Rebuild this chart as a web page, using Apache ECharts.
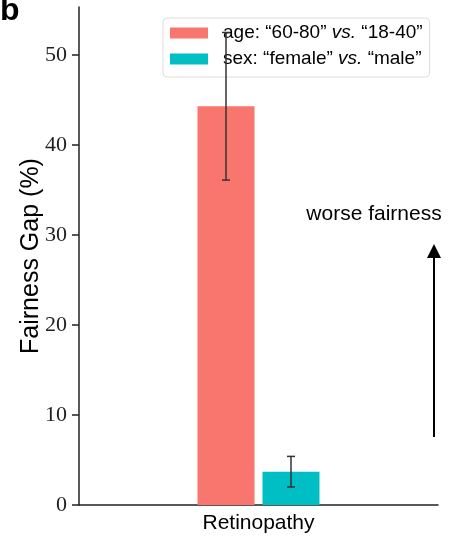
<!DOCTYPE html>
<html>
<head>
<meta charset="utf-8">
<script src="https://cdn.jsdelivr.net/npm/echarts@6/dist/echarts.min.js"></script>
<style>html,body{margin:0;padding:0;background:#fff}#c{width:455px;height:540px}</style>
</head>
<body>
<div id="c"></div>
<script>
var categories = ['Retinopathy'];
var seriesNames = ['age: “60-80” {i|vs.} “18-40”', 'sex: “female” {i|vs.} “male”'];
var seriesKeys = ['age', 'sex'];
var ageValues = [44.3];
var ageErrors = [8.2];
var sexValues = [3.7];
var sexErrors = [1.7];
var yTicks = [0, 10, 20, 30, 40, 50];
var colors = ['#F8766D', '#00BFC4'];

var BAR_W = 57, BAR_GAP = 8;
var SANS = '"Liberation Sans", Arial, Helvetica, sans-serif';

function errSeries(vals, errs, offset) {
  return {
    type: 'custom',
    z: 6,
    silent: true,
    data: vals.map(function (v, i) { return [i, v - errs[i], v + errs[i]]; }),
    renderItem: function (params, api) {
      var lo = api.coord([api.value(0), api.value(1)]);
      var hi = api.coord([api.value(0), api.value(2)]);
      var x = lo[0] + offset, cw = 4;
      var st = { stroke: '#333', lineWidth: 1.5 };
      return { type: 'group', children: [
        { type: 'line', shape: { x1: x, y1: lo[1], x2: x, y2: hi[1] }, style: st },
        { type: 'line', shape: { x1: x - cw, y1: lo[1], x2: x + cw, y2: lo[1] }, style: st },
        { type: 'line', shape: { x1: x - cw, y1: hi[1], x2: x + cw, y2: hi[1] }, style: st }
      ]};
    }
  };
}

var chart = echarts.init(document.getElementById('c'), null, { renderer: 'canvas' });
var half = (BAR_W + BAR_GAP) / 2;
chart.setOption({
  animation: false,
  grid: { left: 79, right: 17, top: 7, bottom: 35 },
  legend: {
    left: 163, top: 18, orient: 'vertical',
    padding: [5, 7, 8, 7],
    icon: 'rect',
    itemWidth: 38, itemHeight: 11, itemGap: 6,
    backgroundColor: 'rgba(255,255,255,0.8)',
    borderColor: '#dcdcdc', borderWidth: 1, borderRadius: 4,
    data: seriesKeys,
    formatter: function (name) { return seriesNames[seriesKeys.indexOf(name)]; },
    textStyle: {
      fontFamily: SANS, fontSize: 19, color: '#000', lineHeight: 20, padding: [0, 0, 0, 10],
      rich: { i: { fontFamily: SANS, fontSize: 19, fontStyle: 'italic', color: '#000' } }
    }
  },
  xAxis: {
    type: 'category', data: categories,
    axisLine: { lineStyle: { color: '#222', width: 1.5 } },
    axisTick: { show: false },
    axisLabel: { fontFamily: SANS, fontSize: 21, color: '#000', margin: 8 }
  },
  yAxis: {
    type: 'value', min: 0, max: 55.33, interval: 10,
    name: 'Fairness Gap (%)', nameLocation: 'middle', nameGap: 35, nameMoveOverlap: false,
    nameTextStyle: { fontFamily: SANS, fontSize: 25, color: '#000' },
    splitLine: { show: false },
    axisLine: { show: true, lineStyle: { color: '#222', width: 1.5 } },
    axisTick: { show: true, length: 7, customValues: yTicks, lineStyle: { color: '#222', width: 1.5 } },
    axisLabel: { customValues: yTicks, fontFamily: '"Liberation Serif", "Times New Roman", serif', fontSize: 22, color: '#222', margin: 12 }
  },
  series: [
    { name: 'age', type: 'bar', data: ageValues, barWidth: BAR_W, barGap: (BAR_GAP / BAR_W * 100) + '%', itemStyle: { color: colors[0] } },
    { name: 'sex', type: 'bar', data: sexValues, barWidth: BAR_W, itemStyle: { color: colors[1] } },
    errSeries(ageValues, ageErrors, -half),
    errSeries(sexValues, sexErrors, half)
  ],
  graphic: [
    { type: 'text', left: 0, top: -5, style: { text: 'b', fontFamily: SANS, fontWeight: 'bold', fontSize: 32, fill: '#000' } },
    { type: 'text', x: 374, y: 214, style: { text: 'worse fairness', fontFamily: SANS, fontSize: 21, fill: '#000', align: 'center', verticalAlign: 'middle' } },
    { type: 'line', shape: { x1: 434, y1: 437, x2: 434, y2: 256 }, style: { stroke: '#000', lineWidth: 2 } },
    { type: 'polygon', shape: { points: [[434, 244], [427, 258], [441, 258]] }, style: { fill: '#000' } }
  ]
});
</script>
</body>
</html>
